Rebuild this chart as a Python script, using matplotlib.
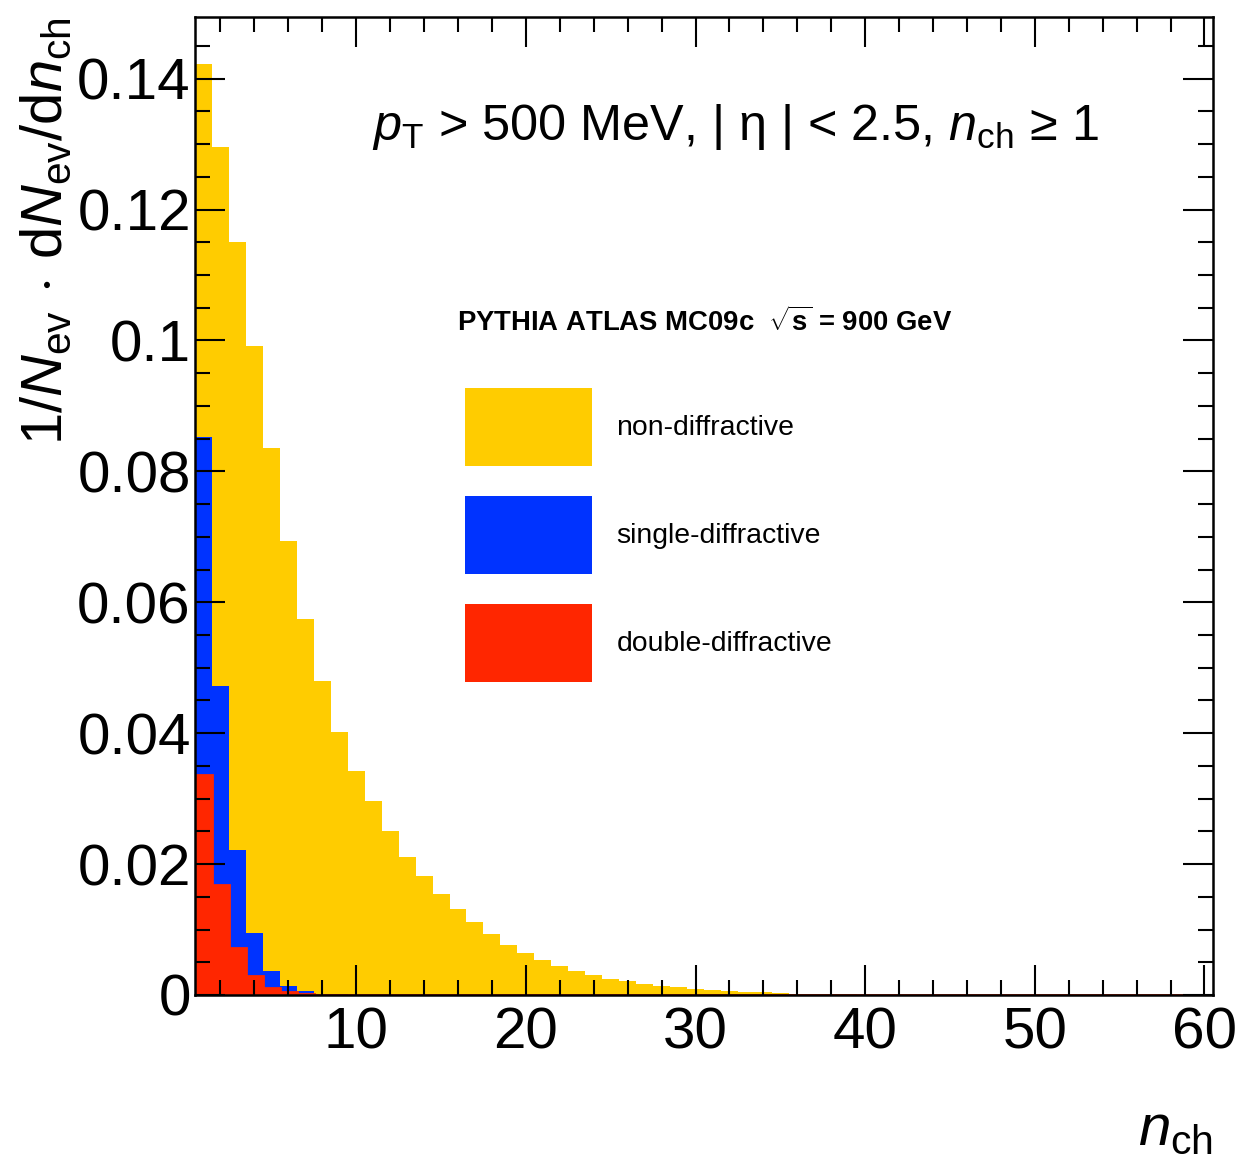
import numpy as np
import matplotlib
matplotlib.use("Agg")
import matplotlib.pyplot as plt
from matplotlib.patches import Patch
from matplotlib.ticker import MultipleLocator, FuncFormatter

plt.rcParams['font.family'] = ['Liberation Sans', 'DejaVu Sans']
plt.rcParams['mathtext.fontset'] = 'custom'
plt.rcParams['mathtext.rm'] = 'Liberation Sans'
plt.rcParams['mathtext.it'] = 'Liberation Sans:italic'
plt.rcParams['mathtext.bf'] = 'Liberation Sans:bold'

# charged multiplicity, bins of width 1 from n_ch = 1 to 60
n_bins = 60

non_diff = [0.1423, 0.1295, 0.1150, 0.0992, 0.0836, 0.0693, 0.0574, 0.0480,
            0.0402, 0.0342, 0.0297, 0.0250, 0.0211, 0.0182, 0.0154, 0.0131,
            0.0111, 0.0093, 0.0077, 0.0064, 0.0054, 0.0045, 0.0037, 0.0031,
            0.0025, 0.0021, 0.0017, 0.0014, 0.0012, 0.0009, 0.0008, 0.0006,
            0.0005, 0.0004, 0.0003, 0.0002, 0.0002, 0.0001, 0.0001, 0.00005]
single_diff = [0.0852, 0.0472, 0.0221, 0.0094, 0.0036, 0.0013, 0.0006,
               0.0002, 0.0001]
double_diff = [0.0336, 0.0168, 0.0072, 0.0029, 0.0011, 0.0004, 0.0001]

labels = ["non-diffractive", "single-diffractive", "double-diffractive"]
colors = ["#ffcc00", "#0033ff", "#ff2600"]


def full(vals):
    out = np.zeros(n_bins)
    out[:len(vals)] = vals
    return out


edges = np.arange(0.5, n_bins + 1.5, 1.0)

fig = plt.figure(figsize=(12.39, 11.58), dpi=100)
ax = fig.add_axes([0.1574, 0.1408, 0.8216, 0.8445])

for vals, c in zip([non_diff, single_diff, double_diff], colors):
    ax.stairs(full(vals), edges, fill=True, color=c, lw=0)
# red histogram outline, runs along zero over the full range
ax.stairs(full(double_diff), edges, color=colors[2], lw=2, baseline=None)

ax.set_xlim(0.5, 60.5)
ax.set_ylim(0, 1.05 * max(non_diff))

ax.xaxis.set_major_locator(MultipleLocator(10))
ax.xaxis.set_minor_locator(MultipleLocator(2))
ax.yaxis.set_major_locator(MultipleLocator(0.02))
ax.yaxis.set_minor_locator(MultipleLocator(0.005))
ax.yaxis.set_major_formatter(FuncFormatter(lambda v, p: "%g" % round(v, 3)))

ax.tick_params(which='both', direction='in', top=True, right=True, width=1.5,
               labelsize=42)
ax.tick_params(which='major', length=21.5)
ax.tick_params(which='minor', length=11)
ax.tick_params(axis='x', pad=8)
ax.tick_params(axis='y', pad=3)
for s in ax.spines.values():
    s.set_linewidth(1.8)

ax.set_ylabel(r"$1/N_{\rm ev}\,\cdot\,{\rm d}N_{\rm ev}/{\rm d}n_{\rm ch}$",
              fontsize=41.8, loc='top')
ax.yaxis.set_label_coords(-0.119, 1.0)
ax.set_xlabel(r"$n_{\rm ch}$", fontsize=42, loc='right')
ax.xaxis.set_label_coords(1.0, -0.11)

ax.text(0.174, 0.874, r"$p_{\rm T}$ > 500 MeV, | η | < 2.5, $n_{\rm ch}$ ≥ 1",
        transform=ax.transAxes, fontsize=36.3, va='baseline', ha='left')

# legend header
ax.text(0.257, 0.688, r"PYTHIA ATLAS MC09c  $\sqrt{\mathbf{s}}$ = 900 GeV",
        transform=ax.transAxes, fontsize=19.8, fontweight='bold',
        va='center', ha='left')

handles = [Patch(facecolor=c, edgecolor='none') for c in colors]
ax.legend(handles, labels, loc='upper left', bbox_to_anchor=(0.2652, 0.6207),
          frameon=False, fontsize=20.4, handlelength=4.49, handleheight=3.86,
          labelspacing=1.06, handletextpad=0.85, borderpad=0, borderaxespad=0)

fig.savefig("out.png", dpi=100)
